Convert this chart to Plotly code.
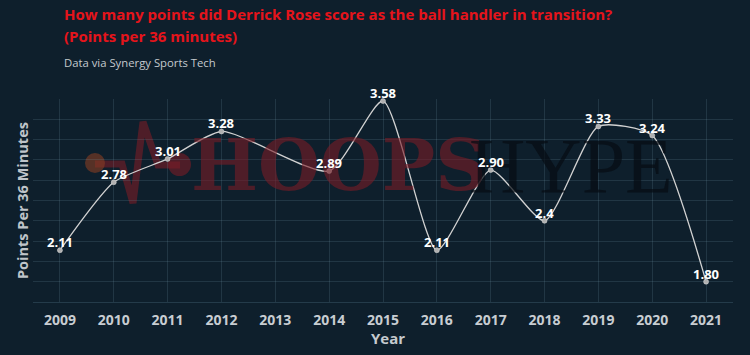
import plotly.graph_objects as go

years = [2009, 2010, 2011, 2012, 2014, 2015, 2016, 2017, 2018, 2019, 2020, 2021]
points = [2.11, 2.78, 3.01, 3.28, 2.89, 3.58, 2.11, 2.90, 2.40, 3.33, 3.24, 1.80]
labels = ["2.11", "2.78", "3.01", "3.28", "2.89", "3.58", "2.11", "2.90", "2.4", "3.33", "3.24", "1.80"]
tick_years = list(range(2009, 2022))

W, H = 750, 355
L, R, T, B = 33, 17, 99, 53
BG = "#0e1f2c"
FONT = "Open Sans"

def px(x):
    return (x - L) / (W - L - R)

def py(y):
    return 1 - (y - T) / (H - T - B)

fig = go.Figure()
fig.add_trace(go.Scatter(
    x=years, y=points,
    mode="lines+markers",
    line=dict(color="#d2d2d2", width=1.3, shape="spline", smoothing=0.6),
    marker=dict(color="#b0b0b0", size=5, line=dict(color="#dddddd", width=0.5)),
    cliponaxis=False,
    hoverinfo="skip",
))

shapes = []
wm_red = "rgba(122,28,38,0.6)"
# heartbeat graphic of the watermark
shapes.append(dict(type="path", xref="paper", yref="paper",
    path="M {},{} L {},{} L {},{} L {},{} L {},{} L {},{}".format(
        px(95), py(164), px(122), py(164), px(133), py(203),
        px(143), py(122), px(158), py(165), px(180), py(165)),
    line=dict(color=wm_red, width=7), layer="below"))
shapes.append(dict(type="circle", xref="paper", yref="paper",
    x0=px(85), x1=px(105), y0=py(153), y1=py(173),
    fillcolor="rgba(135,62,35,0.6)", line=dict(width=0), layer="below"))
shapes.append(dict(type="circle", xref="paper", yref="paper",
    x0=px(168), x1=px(191), y0=py(153), y1=py(176),
    fillcolor=wm_red, line=dict(width=0), layer="below"))

annotations = [
    dict(text="HOOPS", x=px(189), y=py(165), xref="paper", yref="paper",
         xanchor="left", yanchor="middle", showarrow=False,
         font=dict(family="DejaVu Serif", size=71, color=wm_red, weight="bold")),
    dict(text="HYPE", x=px(467), y=py(165), xref="paper", yref="paper",
         xanchor="left", yanchor="middle", showarrow=False,
         font=dict(family="Liberation Serif", size=78, color="rgba(5,12,18,0.7)")),
    dict(text="How many points did Derrick Rose score as the ball handler in transition?",
         x=px(62), y=py(14), xref="paper", yref="paper", xanchor="left", yanchor="middle",
         showarrow=False, font=dict(family=FONT, size=15, color="#e5141b", weight="bold")),
    dict(text="(Points per 36 minutes)",
         x=px(62), y=py(36), xref="paper", yref="paper", xanchor="left", yanchor="middle",
         showarrow=False, font=dict(family=FONT, size=15, color="#e5141b", weight="bold")),
    dict(text="Data via Synergy Sports Tech",
         x=px(62), y=py(62), xref="paper", yref="paper", xanchor="left", yanchor="middle",
         showarrow=False, font=dict(family=FONT, size=11.3, color="#c5cace")),
    dict(text="Points Per 36 Minutes", textangle=-90,
         x=px(22), y=py(201), xref="paper", yref="paper", xanchor="center", yanchor="middle",
         showarrow=False, font=dict(family=FONT, size=14.5, color="#bfc4c9", weight="bold")),
    dict(text="Year",
         x=px(388), y=py(338), xref="paper", yref="paper", xanchor="center", yanchor="middle",
         showarrow=False, font=dict(family=FONT, size=15, color="#c5cace", weight="bold")),
]

for xv, yv, lab in zip(years, points, labels):
    annotations.append(dict(
        x=xv, y=yv, text=lab, xref="x", yref="y", showarrow=False,
        xanchor="center", yanchor="middle", yshift=8,
        font=dict(family=FONT, size=13, color="#ffffff", weight="bold")))

fig.update_layout(
    width=W, height=H,
    margin=dict(l=L, r=R, t=T, b=B),
    paper_bgcolor=BG, plot_bgcolor=BG,
    showlegend=False,
    shapes=shapes,
    annotations=annotations,
    xaxis=dict(range=[2008.5, 2021.5], tickmode="array", tickvals=tick_years,
               ticktext=[str(y) for y in tick_years],
               showgrid=True, gridcolor="rgba(120,160,180,0.18)", gridwidth=1,
               zeroline=False, showline=True, linecolor="rgba(120,160,180,0.22)",
               ticks="", tickfont=dict(family=FONT, size=14, color="#c8cdd2", weight="bold"),
               ticklabelstandoff=5),
    yaxis=dict(range=[1.6, 3.6], dtick=0.2, showticklabels=False,
               showgrid=True, gridcolor="rgba(120,160,180,0.18)", gridwidth=1,
               zeroline=False, showline=False, ticks=""),
)

fig.write_html("out.html")
